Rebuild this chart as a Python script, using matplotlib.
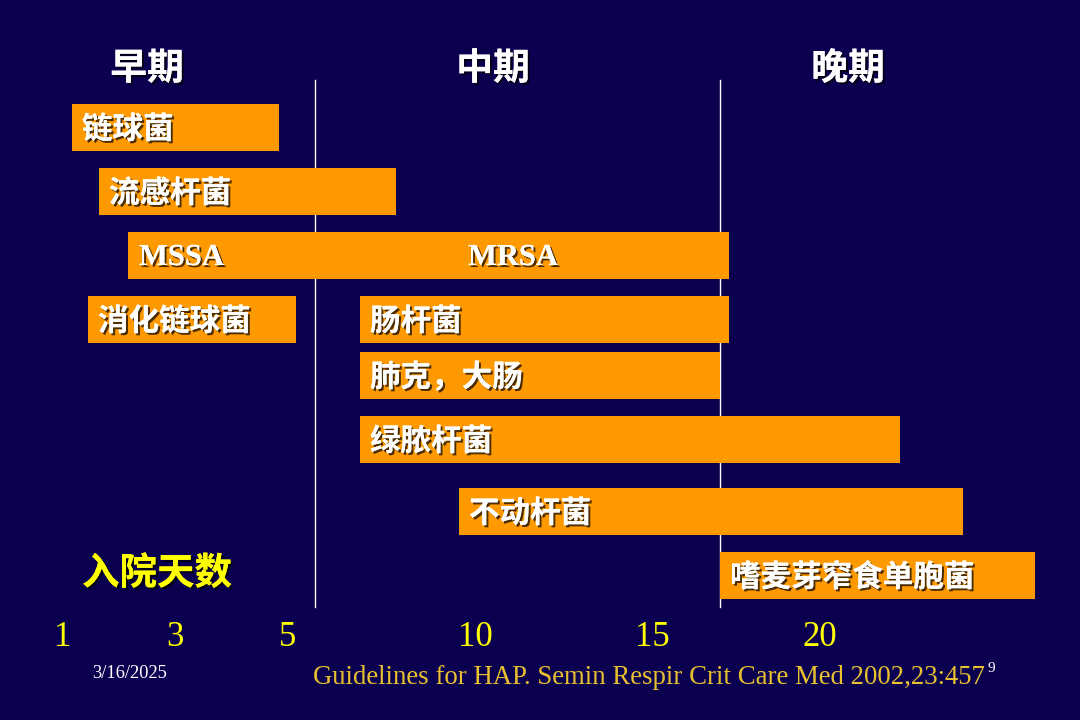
import matplotlib
matplotlib.use("Agg")
import matplotlib.pyplot as plt
import matplotlib.patheffects as pe

# slide background and colours
bg = "#0b0050"
bar_col = "#ff9900"
yellow = "#ffff00"
gold = "#e8c030"

# bars, in slide units (x = horizontal position, y = top edge)
labels = ["链球菌", "流感杆菌", "MSSA", "消化链球菌", "肠杆菌",
          "肺克，大肠", "绿脓杆菌", "不动杆菌", "嗜麦芽窄食单胞菌"]
starts = [72, 99, 128, 88, 360, 360, 360, 459, 720]
ends = [279, 396, 729, 296, 729, 720, 900, 963, 1035]
tops = [104, 168, 232, 296, 296, 352, 416, 488, 552]
bar_h = 47

# extra label inside the MSSA bar
extra_label = "MRSA"
extra_x = 468

# phases
phases = ["早期", "中期", "晚期"]
phase_x = [147, 493, 848]
dividers = [315, 720]

# day axis
days = ["1", "3", "5", "10", "15", "20"]
day_x = [63, 175, 288, 475, 652, 820]

plt.rcParams['font.family'] = ['Noto Sans CJK SC', 'DejaVu Sans']

fig = plt.figure(figsize=(10.8, 7.2), dpi=100)
fig.patch.set_facecolor(bg)
ax = fig.add_axes([0, 0, 1, 1])
ax.set_facecolor(bg)
ax.set_xlim(0, 1080)
ax.set_ylim(720, 0)
ax.axis("off")

shadow = [pe.withSimplePatchShadow(offset=(1.5, -1.5), shadow_rgbFace="black", alpha=0.7), pe.Normal()]

# divider lines sit behind the bars
for d in dividers:
    ax.plot([d, d], [80, 607], color="white", lw=1, zorder=1)

widths = [e - s for s, e in zip(starts, ends)]
centers = [t + bar_h / 2 for t in tops]
ax.barh(centers, widths, left=starts, height=bar_h, color=bar_col, zorder=2)

for lab, s, c in zip(labels, starts, centers):
    if lab.isascii():
        ax.text(s + 11, c + 2, lab, color="white", fontsize=22, fontweight="bold",
                family="Liberation Serif", va="center", zorder=3, path_effects=shadow)
    else:
        ax.text(s + 10, c + 2, lab, color="white", fontsize=22, fontweight="bold",
                va="center", zorder=3, path_effects=shadow)

ax.text(extra_x, centers[2] + 2, extra_label, color="white", fontsize=22, fontweight="bold",
        family="Liberation Serif", va="center", zorder=3, path_effects=shadow)

for p, x in zip(phases, phase_x):
    ax.text(x, 69, p, color="white", fontsize=26.5, fontweight="bold",
            ha="center", va="center", path_effects=shadow)

ax.text(82, 573, "入院天数", color=yellow, fontsize=27, fontweight="bold",
        va="center", path_effects=shadow)

for d, x in zip(days, day_x):
    ax.text(x, 637, d, color=yellow, fontsize=25, family="Liberation Serif",
            ha="center", va="center")

ax.text(92, 673, "3/16/2025", color="white", fontsize=13.3, family="Liberation Serif",
        va="center")
ax.text(313, 678, "Guidelines for HAP. Semin Respir Crit Care Med 2002,23:457",
        color=gold, fontsize=19.25, family="Liberation Serif", va="center")
ax.text(987, 669, "9", color="white", fontsize=11, family="Liberation Serif", va="center")

fig.savefig("out.png", dpi=100, facecolor=bg)
